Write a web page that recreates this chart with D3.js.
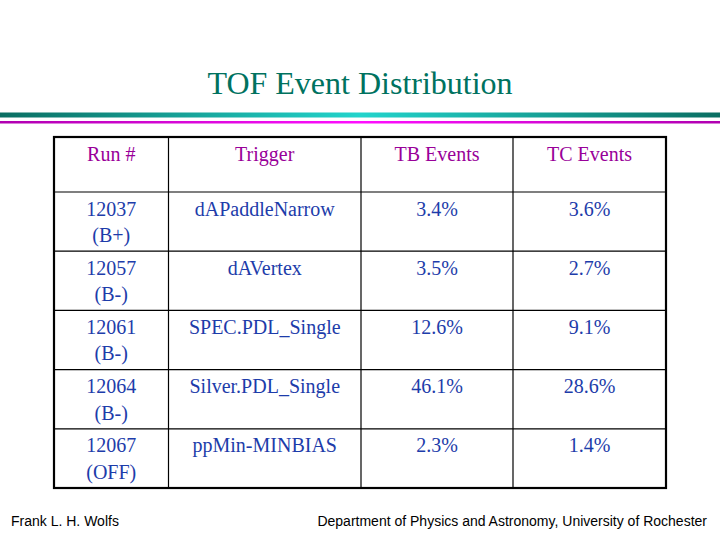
<!DOCTYPE html>
<html>
<head>
<meta charset="utf-8">
<script src="https://cdn.jsdelivr.net/npm/d3@7"></script>
<style>
  html, body { margin: 0; padding: 0; background: #fff; }
  svg { display: block; }
  .serif { font-family: "Liberation Serif"; }
  .sans { font-family: "Liberation Sans"; }
</style>
</head>
<body>
<div id="slide"></div>
<script>
// -------------------------------------------------------------
// Table contents
// -------------------------------------------------------------
const HEADERS = ["Run #", "Trigger", "TB Events", "TC Events"];
const RUNS = ["12037", "12057", "12061", "12064", "12067"];
const RUN_MODES = ["(B+)", "(B-)", "(B-)", "(B-)", "(OFF)"];
const TRIGGERS = ["dAPaddleNarrow", "dAVertex", "SPEC.PDL_Single", "Silver.PDL_Single", "ppMin-MINBIAS"];
const TB_EVENTS = [3.4, 3.5, 12.6, 46.1, 2.3];
const TC_EVENTS = [3.6, 2.7, 9.1, 28.6, 1.4];

const TITLE = "TOF Event Distribution";
const FOOTER_LEFT = "Frank L. H. Wolfs";
const FOOTER_RIGHT = "Department of Physics and Astronomy, University of Rochester";

// -------------------------------------------------------------
// Layout
// -------------------------------------------------------------
const W = 720, H = 540;
const table = { left: 54, right: 666, top: 137, headerBottom: 192, bottom: 488 };
const colEdges = [54, 168.5, 361, 513, 666];

const purple = "#990099";
const blue = "#1d3caa";
const cellFont = "20px";

const svg = d3.select("#slide").append("svg")
  .attr("width", W)
  .attr("height", H);

// ---- gradients for the decorative rules ----
const defs = svg.append("defs");
const teal = defs.append("linearGradient").attr("id", "tealRule");
teal.append("stop").attr("offset", "0%").attr("stop-color", "#0a6e62");
teal.append("stop").attr("offset", "50%").attr("stop-color", "#22d4cc");
teal.append("stop").attr("offset", "100%").attr("stop-color", "#0a6e62");

const mag = defs.append("linearGradient").attr("id", "magRule");
mag.append("stop").attr("offset", "0%").attr("stop-color", "#b000b0");
mag.append("stop").attr("offset", "50%").attr("stop-color", "#ff10ff");
mag.append("stop").attr("offset", "100%").attr("stop-color", "#b000b0");

// ---- title ----
svg.append("text")
  .attr("class", "serif")
  .attr("x", 360)
  .attr("y", 94)
  .attr("text-anchor", "middle")
  .style("font-size", "32px")
  .attr("fill", "#00725f")
  .text(TITLE);

svg.append("rect")
  .attr("x", 0).attr("y", 112.5)
  .attr("width", W).attr("height", 5)
  .attr("fill", "url(#tealRule)");

svg.append("rect")
  .attr("x", 0).attr("y", 121)
  .attr("width", W).attr("height", 2.5)
  .attr("fill", "url(#magRule)");

// ---- table scales ----
const x = d3.scaleOrdinal()
  .domain(d3.range(4))
  .range(colEdges.slice(0, 4).map((e, i) => (e + colEdges[i + 1]) / 2));

const y = d3.scaleBand()
  .domain(d3.range(RUNS.length))
  .range([table.headerBottom, table.bottom])
  .padding(0);

const g = svg.append("g");

// grid lines
g.selectAll("line.row")
  .data(d3.range(RUNS.length))
  .join("line")
  .attr("class", "row")
  .attr("x1", table.left).attr("x2", table.right)
  .attr("y1", d => y(d)).attr("y2", d => y(d))
  .attr("stroke", "#000")
  .attr("stroke-width", 1.2);

g.selectAll("line.col")
  .data(colEdges.slice(1, 4))
  .join("line")
  .attr("class", "col")
  .attr("x1", d => d).attr("x2", d => d)
  .attr("y1", table.top).attr("y2", table.bottom)
  .attr("stroke", "#000")
  .attr("stroke-width", 1.2);

g.append("rect")
  .attr("x", table.left).attr("y", table.top)
  .attr("width", table.right - table.left)
  .attr("height", table.bottom - table.top)
  .attr("fill", "none")
  .attr("stroke", "#000")
  .attr("stroke-width", 2.2);

// header
g.selectAll("text.head")
  .data(HEADERS)
  .join("text")
  .attr("class", "head serif")
  .attr("x", (d, i) => x(i))
  .attr("y", table.top + 24)
  .attr("text-anchor", "middle")
  .style("font-size", cellFont)
  .attr("fill", purple)
  .text(d => d);

// body rows
const rows = RUNS.map((run, i) => ({
  i,
  cells: [[run, RUN_MODES[i]], [TRIGGERS[i]], [TB_EVENTS[i].toFixed(1) + "%"], [TC_EVENTS[i].toFixed(1) + "%"]]
}));

const rowG = g.selectAll("g.data-row")
  .data(rows)
  .join("g")
  .attr("class", "data-row")
  .attr("transform", d => `translate(0,${y(d.i)})`);

rowG.each(function (row) {
  d3.select(this).selectAll("text")
    .data(row.cells)
    .join("text")
    .attr("class", "serif")
    .attr("x", (d, c) => x(c))
    .attr("y", 23.5)
    .attr("text-anchor", "middle")
    .style("font-size", cellFont)
    .attr("fill", blue)
    .selectAll("tspan")
    .data(d => d)
    .join("tspan")
    .attr("x", function () { return d3.select(this.parentNode).attr("x"); })
    .attr("dy", (d, k) => k === 0 ? 0 : 26.5)
    .text(d => d);
});

// ---- footer ----
svg.append("text")
  .attr("class", "sans")
  .attr("x", 11)
  .attr("y", 526)
  .style("font-size", "14px")
  .attr("fill", "#000")
  .text(FOOTER_LEFT);

svg.append("text")
  .attr("class", "sans")
  .attr("x", 707)
  .attr("y", 526)
  .attr("text-anchor", "end")
  .style("font-size", "14px")
  .attr("fill", "#000")
  .text(FOOTER_RIGHT);
</script>
</body>
</html>
